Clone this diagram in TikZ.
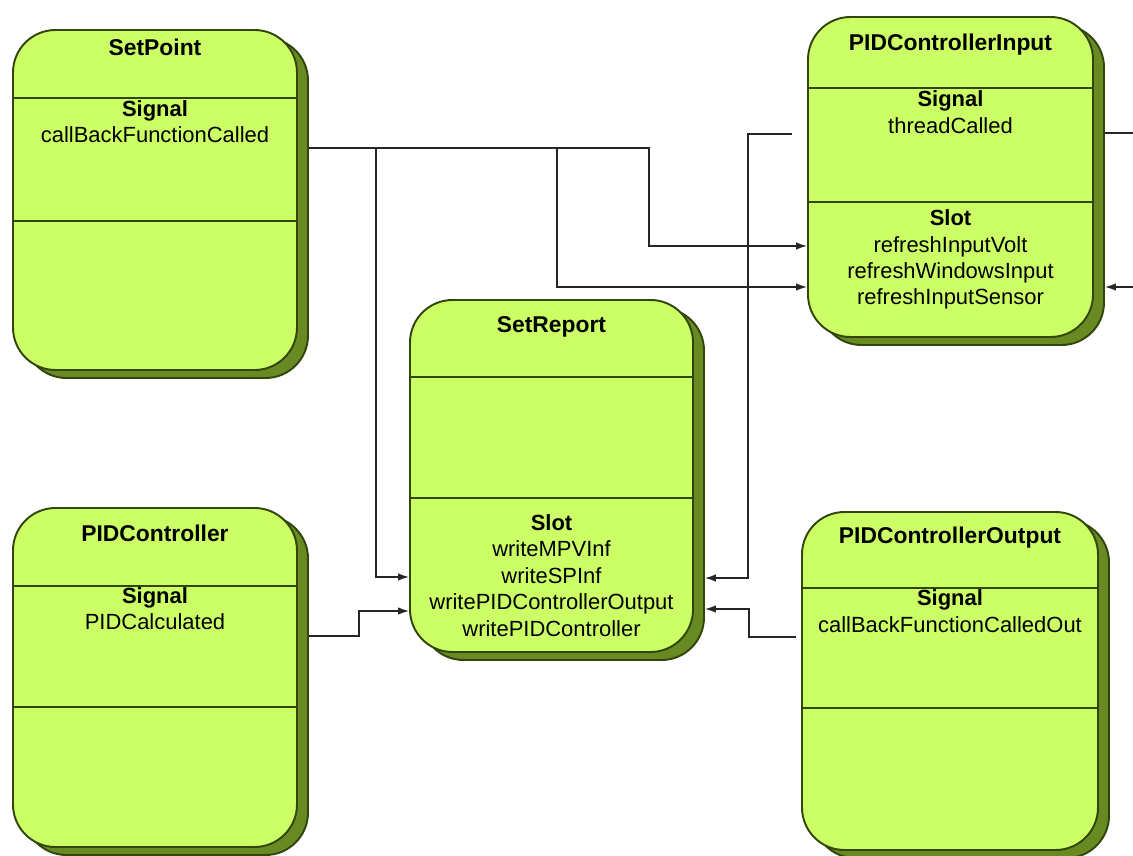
\documentclass[tikz,border=0pt]{standalone}
\usepackage{fontspec}
\setmainfont{Liberation Sans}
\usepackage{tikz}
\usetikzlibrary{
    arrows.meta,
    positioning,
    shadows
}
\definecolor{classfill}{RGB}{204,255,102}
\definecolor{classshade}{RGB}{104,138,34}
\definecolor{classline}{RGB}{50,70,12}

\tikzset{
    classbox/.style={draw=classline, line width=1.1pt, fill=classfill,
        rounded corners=0.85cm, inner sep=0pt,
        drop shadow={shadow xshift=2.2mm, shadow yshift=-1.6mm,
            fill=classshade, draw=classline, opacity=1}},
    divline/.style={classline, line width=1.1pt},
    classname/.style={font=\fontsize{13}{15}\selectfont\bfseries},
    members/.style={font=\fontsize{12.5}{15}\selectfont, align=center},
    conn/.style={line width=0.8pt, black!85},
    arr/.style={conn, -{Latex[length=2.2mm,width=1.5mm]}}
}

\begin{document}
\begin{tikzpicture}
    \useasboundingbox (0,0) rectangle (22.66,-17.12);

    % Class boxes
    \node[classbox, minimum width=5.68cm, minimum height=6.8cm] (setpoint) at (3.10,-4.0) {};
    \node[classbox, minimum width=5.70cm, minimum height=6.4cm] (pidin) at (19.01,-3.54) {};
    \node[classbox, minimum width=5.66cm, minimum height=7.04cm] (setreport) at (11.03,-9.52) {};
    \node[classbox, minimum width=5.68cm, minimum height=6.78cm] (pidctrl) at (3.10,-13.55) {};
    \node[classbox, minimum width=5.92cm, minimum height=6.76cm] (pidout) at (19.0,-13.62) {};

    % Compartment lines
    \draw[divline] (setpoint.west |- 0,-1.96) -- (setpoint.east |- 0,-1.96);
    \draw[divline] (setpoint.west |- 0,-4.42) -- (setpoint.east |- 0,-4.42);
    \draw[divline] (pidin.west |- 0,-1.76) -- (pidin.east |- 0,-1.76);
    \draw[divline] (pidin.west |- 0,-4.04) -- (pidin.east |- 0,-4.04);
    \draw[divline] (setreport.west |- 0,-7.54) -- (setreport.east |- 0,-7.54);
    \draw[divline] (setreport.west |- 0,-9.96) -- (setreport.east |- 0,-9.96);
    \draw[divline] (pidctrl.west |- 0,-11.72) -- (pidctrl.east |- 0,-11.72);
    \draw[divline] (pidctrl.west |- 0,-14.14) -- (pidctrl.east |- 0,-14.14);
    \draw[divline] (pidout.west |- 0,-11.76) -- (pidout.east |- 0,-11.76);
    \draw[divline] (pidout.west |- 0,-14.16) -- (pidout.east |- 0,-14.16);

    % Names, signals and slots
    \node[classname] (setpoint name) at (3.10,-0.94) {SetPoint};
    \node[members] (setpoint signal) at (3.10,-2.43) {\textbf{Signal}\\callBackFunctionCalled};

    \node[classname] (pidin name) at (19.01,-0.90) {PIDControllerInput};
    \node[members] (pidin signal) at (19.01,-2.24) {\textbf{Signal}\\threadCalled};
    \node[members] (pidin slot) at (19.01,-5.19) {\textbf{Slot}\\refreshInputVolt\\refreshWindowsInput\\refreshInputSensor};

    \node[classname] (setreport name) at (11.03,-6.54) {SetReport};
    \node[members] (setreport slot) at (11.03,-11.51) {\textbf{Slot}\\writeMPVInf\\writeSPInf\\writePIDControllerOutput\\writePIDController};

    \node[classname] (pidctrl name) at (3.10,-10.66) {PIDController};
    \node[members] (pidctrl signal) at (3.10,-12.17) {\textbf{Signal}\\PIDCalculated};

    \node[classname] (pidout name) at (19.0,-10.76) {PIDControllerOutput};
    \node[members] (pidout signal) at (19.0,-12.22) {\textbf{Signal}\\callBackFunctionCalledOut};

    % Signal -> slot connections
    \draw[arr, shorten <=2.2mm] (setpoint.east |- 0,-2.96) -| (7.52,-11.54) -- (setreport.west |- 0,-11.54);
    \draw[arr, shorten <=2.2mm] (setpoint.east |- 0,-2.96) -| (11.14,-5.74) -- (pidin.west |- 0,-5.74);
    \draw[arr, shorten <=2.2mm] (setpoint.east |- 0,-2.96) -| (12.98,-4.92) -- (pidin.west |- 0,-4.92);
    \draw[arr, shorten <=3mm, shorten >=2.2mm] (pidin.west |- 0,-2.68) -| (14.96,-11.56) -- (setreport.east |- 0,-11.56);
    \draw[arr, shorten <=2.2mm] (pidctrl.east |- 0,-12.72) -| (7.18,-12.22) -- (setreport.west |- 0,-12.22);
    \draw[arr, shorten <=1mm, shorten >=2.2mm] (pidout.west |- 0,-12.74) -| (14.98,-12.18) -- (setreport.east |- 0,-12.18);

    % Links leaving the picture
    \coordinate (right out) at (22.66,-2.66);
    \coordinate (right in) at (22.66,-5.74);
    \draw[conn, shorten <=2.2mm] (pidin.east |- right out) -- (right out);
    \draw[arr, shorten >=2.2mm] (right in) -- (pidin.east |- right in);
\end{tikzpicture}
\end{document}
